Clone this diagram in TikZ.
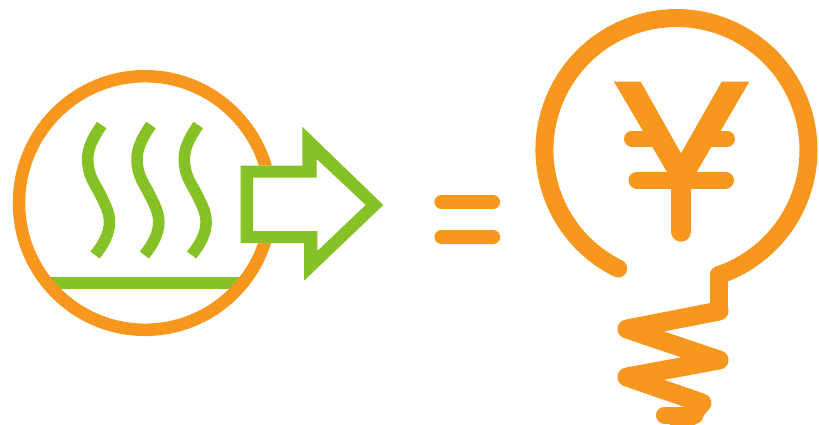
\documentclass[tikz,border=0pt]{standalone}
\definecolor{orng}{HTML}{F8971E}
\definecolor{grn}{HTML}{86C226}
\tikzset{
  wave/.style={draw=grn,line width=11.5pt,line cap=butt},
  oline/.style={draw=orng,line cap=round,line join=round},
}
\begin{document}
\begin{tikzpicture}[x=1pt,y=-1pt]
\useasboundingbox (0,0) rectangle (819,424);
\clip (0,0) rectangle (819,424);
% heat panel
\begin{scope}
  \clip (145,203) ellipse [x radius=126,y radius=126.8];
  \draw[grn,line width=12.5pt] (30,283) -- (260,283);
\end{scope}
\draw[orng,line width=12.5pt] (145,203) ellipse [x radius=126,y radius=126.8];
\foreach \dx in {0,49.3,96.6}{
  \draw[wave] (101.7+\dx,125) .. controls (92+\dx,139) and (87.5+\dx,149) .. (87.7+\dx,160)
     .. controls (88+\dx,176) and (95+\dx,184) .. (100+\dx,194)
     .. controls (106+\dx,206) and (109.5+\dx,213) .. (109.5+\dx,222)
     .. controls (109.5+\dx,233) and (104+\dx,244) .. (95+\dx,255);
}
% arrow
\fill[white] (240.7,165.7) -- (302.3,165.7) -- (302.3,126.7) -- (383.3,205) -- (304,280.7) -- (304,243) -- (240.7,243) -- cycle;
\fill[grn,even odd rule]
  (240.7,165.7) -- (302.3,165.7) -- (302.3,126.7) -- (383.3,205) -- (304,280.7) -- (304,243) -- (240.7,243) -- cycle
  (253,177.7) -- (316.7,177.7) -- (316.7,159) -- (365.7,205) -- (317.3,251) -- (317.3,231) -- (253,231) -- cycle;
% equals
\draw[oline,line width=14.3pt] (441.5,202) -- (493,202);
\draw[oline,line width=14.3pt] (441.5,237) -- (493,237);
% bulb
\draw[oline,line width=18pt] (618.2,268.5) arc [start angle=116.2,end angle=431.2,radius=132];
\draw[oline,line width=18pt] (719,275) -- (719,311);
\draw[oline,line width=19pt] (719,311) -- (627,329) -- (719,360) -- (627,377) -- (702,403) -- (677,430.5);
\draw[oline,line width=17pt] (664.5,415) -- (695,415);
% yen
\fill[orng] (614,81.7) -- (640.7,81.7) -- (681,153.3) -- (721.7,81.7) -- (749.3,81.7) -- (696.7,172) -- (667,172) -- cycle;
\draw[orng,line width=20pt] (681,170) -- (681,231.7);
\fill[orng] (681,231.7) circle [radius=10];
\draw[oline,line width=16pt] (632,138.8) -- (652,138.8);
\draw[oline,line width=16pt] (710,138.8) -- (727,138.8);
\draw[oline,line width=17pt] (637,180) -- (725.5,180);
\end{tikzpicture}
\end{document}
